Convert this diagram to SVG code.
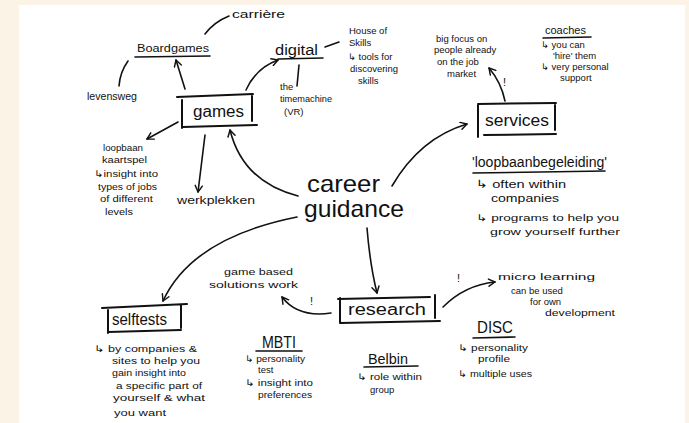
<svg xmlns="http://www.w3.org/2000/svg" width="689" height="423" viewBox="0 0 689 423">
  <defs>
    <marker id="arrow" viewBox="0 0 10 10" refX="8" refY="5" markerWidth="9" markerHeight="9" markerUnits="userSpaceOnUse" orient="auto">
      <path d="M1,1 L8,5 L1,9" fill="none" stroke="#111" stroke-width="1.6" stroke-linecap="round" stroke-linejoin="round"/>
    </marker>
    <style>
      text { font-family: "Liberation Sans", "DejaVu Sans", sans-serif; fill: #111; }
      .s { font-size: 9.5px; }
      .m { font-size: 11px; }
      .b { font-size: 16px; }
      .h { font-size: 14px; }
      .big { font-size: 24px; }
      .ln { fill: none; stroke: #111; stroke-width: 1.6; stroke-linecap: round; }
      .box { fill: none; stroke: #111; stroke-width: 2; stroke-linecap: round; }
      .arr { fill: none; stroke: #111; stroke-width: 1.6; stroke-linecap: round; marker-end: url(#arrow); }
    </style>
  </defs>

  <!-- page background and sheet -->
  <rect x="0" y="0" width="689" height="423" fill="#faf3e6"/>
  <rect x="19" y="5" width="666" height="418" fill="#ffffff"/>

  <!-- connectors -->
  <g id="connectors">
    <path class="ln" d="M205,34 Q214,22 229,16"/>
    <path class="ln" d="M128,61 Q120,72 119,86"/>
    <path class="arr" d="M185,89 L176,60"/>
    <path class="arr" d="M246,90 Q256,68 278,60"/>
    <path class="ln" d="M325,47 L339,42"/>
    <path class="ln" d="M299,65 L297,86"/>
    <path class="arr" d="M505,101 Q501,82 489,68"/>
    <path class="arr" d="M392,186 Q420,138 467,124"/>
    <path class="arr" d="M298,196 Q243,182 230,130"/>
    <path class="arr" d="M205,135 L198,192"/>
    <path class="arr" d="M178,122 L147,139"/>
    <path class="arr" d="M297,217 Q192,238 163,301"/>
    <path class="arr" d="M367,228 Q370,265 377,293"/>
    <path class="arr" d="M331,313 Q298,318 282,297"/>
    <path class="arr" d="M443,307 Q465,285 495,282"/>
  </g>

  <!-- central topic -->
  <g id="career-guidance">
    <text class="big" x="307" y="192" textLength="73" lengthAdjust="spacingAndGlyphs">career</text>
    <text class="big" x="304" y="217" textLength="100" lengthAdjust="spacingAndGlyphs">guidance</text>
  </g>

  <!-- games branch -->
  <g id="games">
    <path class="box" d="M177,97 L253,94 M182,100 L182,128 M252,94 L252,121 M183,127 L257,125"/>
    <text class="b" x="193" y="117" textLength="51" lengthAdjust="spacingAndGlyphs">games</text>
  </g>
  <g id="boardgames">
    <text class="m" x="137" y="52" textLength="72" lengthAdjust="spacingAndGlyphs">Boardgames</text>
    <path class="ln" d="M135,57 L210,56"/>
  </g>
  <g id="carriere">
    <text class="m" x="232" y="18" textLength="53" lengthAdjust="spacingAndGlyphs">carrière</text>
  </g>
  <g id="levensweg">
    <text class="m" x="87" y="100" textLength="50" lengthAdjust="spacingAndGlyphs">levensweg</text>
  </g>
  <g id="digital">
    <text class="h" x="275" y="55" textLength="43" lengthAdjust="spacingAndGlyphs">digital</text>
    <path class="ln" d="M278,59 L323,58"/>
  </g>
  <g id="timemachine">
    <text class="s" x="280" y="90">the</text>
    <text class="s" x="280" y="102" textLength="52" lengthAdjust="spacingAndGlyphs">timemachine</text>
    <text class="s" x="284" y="115">(VR)</text>
  </g>
  <g id="house-of-skills">
    <text class="s" x="349" y="34">House of</text>
    <text class="s" x="349" y="46">Skills</text>
    <text class="s" x="348" y="60">↳ tools for</text>
    <text class="s" x="350" y="72">discovering</text>
    <text class="s" x="358" y="84">skills</text>
  </g>
  <g id="werkplekken">
    <text class="m" x="177" y="204" textLength="78" lengthAdjust="spacingAndGlyphs">werkplekken</text>
  </g>
  <g id="loopbaan-kaartspel">
    <text class="s" x="103" y="151" textLength="40" lengthAdjust="spacingAndGlyphs">loopbaan</text>
    <text class="s" x="102" y="163" textLength="45" lengthAdjust="spacingAndGlyphs">kaartspel</text>
    <text class="s" x="94" y="177" textLength="64" lengthAdjust="spacingAndGlyphs">↳insight into</text>
    <text class="s" x="98" y="190" textLength="59" lengthAdjust="spacingAndGlyphs">types of jobs</text>
    <text class="s" x="100" y="202" textLength="53" lengthAdjust="spacingAndGlyphs">of different</text>
    <text class="s" x="105" y="215" textLength="28" lengthAdjust="spacingAndGlyphs">levels</text>
  </g>

  <!-- services branch -->
  <g id="services">
    <path class="box" d="M478,104 L556,103 M478,105 L478,137 M555,103 L555,130 M484,135 L556,134"/>
    <text class="b" x="485" y="126" textLength="64" lengthAdjust="spacingAndGlyphs">services</text>
  </g>
  <g id="big-focus">
    <text class="s" x="436" y="42">big focus on</text>
    <text class="s" x="434" y="53">people already</text>
    <text class="s" x="437" y="65">on the job</text>
    <text class="s" x="447" y="77">market</text>
    <text class="m" x="503" y="86">!</text>
  </g>
  <g id="coaches">
    <text class="m" x="545" y="34">coaches</text>
    <path class="ln" d="M543,38 L591,37"/>
    <text class="s" x="541" y="48">↳ you can</text>
    <text class="s" x="553" y="59">'hire' them</text>
    <text class="s" x="541" y="70">↳ very personal</text>
    <text class="s" x="560" y="81">support</text>
  </g>
  <g id="loopbaanbegeleiding">
    <text class="h" x="472" y="167" textLength="135" lengthAdjust="spacingAndGlyphs">'loopbaanbegeleiding'</text>
    <path class="ln" d="M473,173 L605,171"/>
    <text class="m" x="476" y="188" textLength="90" lengthAdjust="spacingAndGlyphs">↳ often within</text>
    <text class="m" x="491" y="202" textLength="68" lengthAdjust="spacingAndGlyphs">companies</text>
    <text class="s" x="476" y="221" textLength="143" lengthAdjust="spacingAndGlyphs">↳ programs to help you</text>
    <text class="s" x="490" y="235" textLength="130" lengthAdjust="spacingAndGlyphs">grow yourself further</text>
  </g>

  <!-- self tests branch -->
  <g id="selftests">
    <path class="box" d="M102,308 L187,304 M108,310 L108,333 M181,305 L181,328 M108,332 L181,330"/>
    <text class="b" x="112" y="325" textLength="55" lengthAdjust="spacingAndGlyphs">selftests</text>
  </g>
  <g id="selftests-note">
    <text class="s" x="94" y="352" textLength="103" lengthAdjust="spacingAndGlyphs">↳ by companies &amp;</text>
    <text class="s" x="112" y="364" textLength="88" lengthAdjust="spacingAndGlyphs">sites to help you</text>
    <text class="s" x="112" y="376" textLength="74" lengthAdjust="spacingAndGlyphs">gain insight into</text>
    <text class="s" x="116" y="389" textLength="86" lengthAdjust="spacingAndGlyphs">a specific part of</text>
    <text class="s" x="113" y="401" textLength="92" lengthAdjust="spacingAndGlyphs">yourself &amp; what</text>
    <text class="s" x="114" y="416" textLength="52" lengthAdjust="spacingAndGlyphs">you want</text>
  </g>

  <!-- research branch -->
  <g id="research">
    <path class="box" d="M338,299 L430,297 M340,298 L340,323 M435,295 L435,318 M340,323 L440,321"/>
    <text class="b" x="348" y="315" textLength="78" lengthAdjust="spacingAndGlyphs">research</text>
  </g>
  <g id="game-based">
    <text class="s" x="224" y="275" textLength="69" lengthAdjust="spacingAndGlyphs">game based</text>
    <text class="s" x="209" y="288" textLength="89" lengthAdjust="spacingAndGlyphs">solutions work</text>
    <text class="m" x="310" y="305">!</text>
  </g>
  <g id="micro-learning">
    <text class="m" x="457" y="282">!</text>
    <text class="s" x="498" y="280" textLength="97" lengthAdjust="spacingAndGlyphs">micro learning</text>
    <text class="s" x="511" y="294">can be used</text>
    <text class="s" x="530" y="305">for own</text>
    <text class="s" x="545" y="316" textLength="70" lengthAdjust="spacingAndGlyphs">development</text>
  </g>
  <g id="mbti">
    <text class="b" x="262" y="348" textLength="34" lengthAdjust="spacingAndGlyphs">MBTI</text>
    <path class="ln" d="M256,351 L302,351"/>
    <text class="s" x="245" y="362" textLength="60" lengthAdjust="spacingAndGlyphs">↳ personality</text>
    <text class="s" x="258" y="373">test</text>
    <text class="s" x="245" y="386" textLength="68" lengthAdjust="spacingAndGlyphs">↳ insight into</text>
    <text class="s" x="258" y="398" textLength="54" lengthAdjust="spacingAndGlyphs">preferences</text>
  </g>
  <g id="belbin">
    <text class="h" x="368" y="364" textLength="40" lengthAdjust="spacingAndGlyphs">Belbin</text>
    <path class="ln" d="M364,367 L418,366"/>
    <text class="s" x="357" y="380" textLength="65" lengthAdjust="spacingAndGlyphs">↳ role within</text>
    <text class="s" x="370" y="393">group</text>
  </g>
  <g id="disc">
    <text class="b" x="477" y="333" textLength="36" lengthAdjust="spacingAndGlyphs">DISC</text>
    <path class="ln" d="M473,338 L515,337"/>
    <text class="s" x="458" y="351" textLength="70" lengthAdjust="spacingAndGlyphs">↳ personality</text>
    <text class="s" x="478" y="362" textLength="32" lengthAdjust="spacingAndGlyphs">profile</text>
    <text class="s" x="458" y="377" textLength="74" lengthAdjust="spacingAndGlyphs">↳ multiple uses</text>
  </g>
</svg>
